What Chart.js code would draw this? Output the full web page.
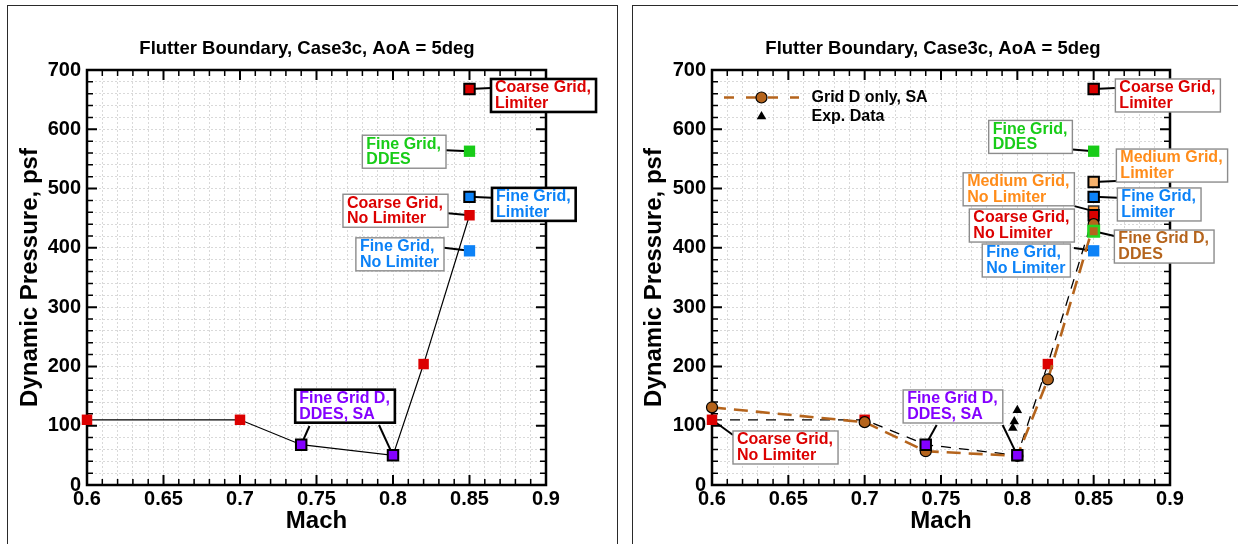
<!DOCTYPE html>
<html>
<head>
<meta charset="utf-8">
<title>Flutter Boundary, Case3c, AoA = 5deg</title>
<script src="https://cdn.jsdelivr.net/npm/chart.js@4.4.1/dist/chart.umd.min.js"></script>
<style>
  html, body { margin: 0; padding: 0; background: #fff; }
  body { width: 1238px; height: 544px; position: relative; overflow: hidden; }
  .frame { position: absolute; border: 1.5px solid #2a2a2a; box-sizing: border-box; }
  canvas { position: absolute; top: 0; }
</style>
</head>
<body>
<div class="frame" style="left:7px;top:5px;width:611px;height:600px"></div>
<div class="frame" style="left:632px;top:5px;width:700px;height:600px"></div>
<canvas id="panelA" width="600" height="544" style="left:7px;width:600px;height:544px"></canvas>
<canvas id="panelB" width="605" height="544" style="left:633px;width:605px;height:544px"></canvas>
<script>
// ---------- text ----------
const titleText = 'Flutter Boundary, Case3c, AoA = 5deg';
const xAxisTitle = 'Mach';
const yAxisTitle = 'Dynamic Pressure, psf';
const xTickLabels = ['0.6', '0.65', '0.7', '0.75', '0.8', '0.85', '0.9'];
const yTickLabels = ['0', '100', '200', '300', '400', '500', '600', '700'];

// ---------- data (Mach, dynamic pressure in psf) ----------
const machCoarseNoLim = [0.6, 0.7, 0.82, 0.85];
const qCoarseNoLim = [110, 110, 204, 455];
const machFineGridD = [0.74, 0.8];
const qFineGridD = [68, 50];
const machSingle = [0.85];
const qCoarseLim = [668];
const qFineDDES = [563];
const qFineLim = [486];
const qFineNoLim = [395];
const qMediumLim = [511];
const qMediumNoLim = [462];
const qFineGridDDDES = [428];
const machGridDSA = [0.6, 0.7, 0.74, 0.8, 0.82, 0.85];
const qGridDSA = [131, 106, 57, 49, 178, 440];
const machExp = [0.8, 0.798, 0.797];
const qExp = [126, 107, 96];

// ---------- label texts ----------
const noteCoarseLim = ['Coarse Grid,', 'Limiter'];
const noteCoarseNoLim = ['Coarse Grid,', 'No Limiter'];
const noteFineDDES = ['Fine Grid,', 'DDES'];
const noteFineLim = ['Fine Grid,', 'Limiter'];
const noteFineNoLim = ['Fine Grid,', 'No Limiter'];
const noteFineGridD = ['Fine Grid D,', 'DDES, SA'];
const noteMediumLim = ['Medium Grid,', 'Limiter'];
const noteMediumNoLim = ['Medium Grid,', 'No Limiter'];
const noteFineGridDDDES = ['Fine Grid D,', 'DDES'];
const legendGridDSA = 'Grid D only, SA';
const legendExp = 'Exp. Data';

// ---------- styling ----------
const FONT = "'Liberation Sans', Arial, Helvetica, sans-serif";
const RED = '#dc0000';
const GREEN = '#18cc18';
const BLUE = '#0c82f7';
const PURPLE = '#8400ff';
const ORANGE = '#ff8c1a';
const LIGHT_ORANGE = '#f7b26c';
const BROWN = '#b5641c';
Chart.defaults.font.family = FONT;
Chart.defaults.color = '#000';

const pts = (xs, ys) => xs.map((x, i) => ({ x, y: ys[i] }));
const boundary = pts(machCoarseNoLim, qCoarseNoLim)
  .concat(pts(machFineGridD, qFineGridD))
  .sort((a, b) => a.x - b.x);

const labelFor = (labels) => (v) => {
  const hit = labels.find(t => Math.abs(parseFloat(t) - v) < 1e-7);
  return hit === undefined ? '' : hit;
};
const isMajor = (labels, v) => labels.some(t => Math.abs(parseFloat(t) - v) < 1e-7);

// ---------- per-panel decorations: frame ticks, callout boxes, legend ----------
const panelDeco = {};

function toPx(chart, pt) {
  return { x: chart.scales.x.getPixelForValue(pt[0]), y: chart.scales.y.getPixelForValue(pt[1]) };
}

const decoPlugin = {
  id: 'deco',
  beforeDatasetsDraw(chart) {
    const cfg = panelDeco[chart.canvas.id];
    if (!cfg) return;
    const { ctx, chartArea: a, scales: { x, y } } = chart;
    ctx.save();
    // leader lines under the markers
    ctx.strokeStyle = '#000';
    ctx.lineWidth = 2;
    ctx.lineCap = 'butt';
    for (const n of cfg.notes) {
      for (const ld of n.leaders) {
        const p = toPx(chart, n.at[ld[0]]);
        ctx.beginPath();
        ctx.moveTo(p.x + ld[1], p.y + ld[2]);
        ctx.lineTo(p.x, p.y);
        ctx.stroke();
      }
    }
    // plot frame
    ctx.lineWidth = 2.5;
    ctx.strokeRect(a.left, a.top, a.right - a.left, a.bottom - a.top);
    // inward tick marks on all four sides
    for (const t of x.ticks) {
      const major = isMajor(xTickLabels, t.value);
      const len = major ? 10 : 6;
      const px = x.getPixelForValue(t.value);
      ctx.lineWidth = major ? 2 : 1.5;
      ctx.beginPath();
      ctx.moveTo(px, a.bottom); ctx.lineTo(px, a.bottom - len);
      ctx.moveTo(px, a.top); ctx.lineTo(px, a.top + len);
      ctx.stroke();
    }
    for (const t of y.ticks) {
      const major = isMajor(yTickLabels, t.value);
      const len = major ? 10 : 6;
      const py = y.getPixelForValue(t.value);
      ctx.lineWidth = major ? 2 : 1.5;
      ctx.beginPath();
      ctx.moveTo(a.left, py); ctx.lineTo(a.left + len, py);
      ctx.moveTo(a.right, py); ctx.lineTo(a.right - len, py);
      ctx.stroke();
    }
    ctx.restore();
  },
  afterDatasetsDraw(chart) {
    const cfg = panelDeco[chart.canvas.id];
    if (!cfg) return;
    const { ctx, chartArea: a } = chart;
    ctx.save();
    ctx.font = `bold 16px ${FONT}`;
    ctx.textBaseline = 'middle';
    ctx.textAlign = 'left';
    // callout boxes
    for (const n of cfg.notes) {
      const p = toPx(chart, n.at[0]);
      const w = Math.max(...n.lines.map(t => ctx.measureText(t).width)) + 9;
      const h = 33;
      const bx = n.side === 'L' ? p.x + n.box[0] - w : p.x + n.box[0];
      const by = p.y + n.box[1];
      ctx.fillStyle = '#fff';
      ctx.fillRect(bx, by, w, h);
      ctx.lineWidth = n.heavy ? 2.6 : 1.4;
      ctx.strokeStyle = n.heavy ? '#000' : '#8c8c8c';
      ctx.strokeRect(bx, by, w, h);
      ctx.fillStyle = n.color;
      n.lines.forEach((t, i) => ctx.fillText(t, bx + 4, by + 9 + i * 15.5));
    }
    // legend
    if (cfg.legend) {
      const ds = chart.data.datasets;
      const lineDs = ds[cfg.legend[0]];
      const expDs = ds[cfg.legend[1]];
      const x0 = a.left + 12, x1 = a.left + 87, xm = a.left + 49.5;
      const y0 = a.top + 27.5, y1 = a.top + 46.5;
      ctx.strokeStyle = lineDs.borderColor;
      ctx.lineWidth = 2.5;
      ctx.setLineDash([10, 12]);
      ctx.beginPath(); ctx.moveTo(x0, y0); ctx.lineTo(x1, y0); ctx.stroke();
      ctx.setLineDash([]);
      ctx.beginPath(); ctx.arc(xm, y0, 5.5, 0, Math.PI * 2);
      ctx.fillStyle = lineDs.pointBackgroundColor; ctx.fill();
      ctx.lineWidth = 1.2; ctx.strokeStyle = '#000'; ctx.stroke();
      ctx.beginPath();
      ctx.moveTo(xm, y1 - 5.5);
      ctx.lineTo(xm + 4.8, y1 + 2.75);
      ctx.lineTo(xm - 4.8, y1 + 2.75);
      ctx.closePath();
      ctx.fillStyle = '#000'; ctx.fill();
      ctx.fillStyle = '#000';
      ctx.fillText(lineDs.label, a.left + 99.5, y0);
      ctx.fillText(expDs.label, a.left + 99.5, y1);
    }
    ctx.restore();
  }
};

// ---------- chart factory ----------
function makeChart(id, datasets, lay) {
  return new Chart(document.getElementById(id), {
    type: 'scatter',
    data: { datasets },
    options: {
      responsive: false,
      animation: false,
      events: [],
      layout: { padding: { left: 0, right: lay.padR, top: 0, bottom: 0 } },
      plugins: {
        legend: { display: false },
        tooltip: { enabled: false },
        title: {
          display: true,
          text: titleText,
          color: '#000',
          font: { family: FONT, size: 18.5, weight: 'bold', lineHeight: 1.2 },
          padding: { top: 38.2, bottom: 9.6 }
        }
      },
      scales: {
        x: {
          type: 'linear',
          position: 'bottom',
          min: 0.6,
          max: 0.9,
          afterFit: (s) => { s.height = 59; },
          ticks: {
            stepSize: 0.01,
            autoSkip: false,
            maxRotation: 0,
            minRotation: 0,
            padding: 2,
            color: '#000',
            font: { family: FONT, size: 20, weight: 'bold', lineHeight: 1.2 },
            callback: labelFor(xTickLabels)
          },
          grid: { color: '#d9d9d9', lineWidth: 1, drawTicks: false },
          border: { display: false, dash: [2, 2] },
          title: {
            display: true,
            text: xAxisTitle,
            color: '#000',
            font: { family: FONT, size: 24, weight: 'bold', lineHeight: 1.2 },
            padding: { top: 0, bottom: 8.6 }
          }
        },
        y: {
          type: 'linear',
          position: 'left',
          min: 0,
          max: 700,
          afterFit: (s) => { s.width = lay.yWidth; },
          ticks: {
            stepSize: 20,
            autoSkip: false,
            padding: 6,
            color: '#000',
            font: { family: FONT, size: 20, weight: 'bold', lineHeight: 1.2 },
            callback: labelFor(yTickLabels)
          },
          grid: { color: '#d9d9d9', lineWidth: 1, drawTicks: false },
          border: { display: false, dash: [2, 2] },
          title: {
            display: true,
            text: yAxisTitle,
            color: '#000',
            font: { family: FONT, size: 24, weight: 'bold', lineHeight: 1.2 },
            padding: { top: lay.yTitlePad, bottom: 0 }
          }
        },
        // empty right-hand axis: reserves the margin between the plot and the callouts
        yMargin: {
          type: 'linear',
          position: 'right',
          min: 0,
          max: 700,
          afterFit: (s) => { s.width = lay.rightWidth; },
          ticks: { display: false },
          grid: { display: false },
          border: { display: false },
          title: { display: false }
        }
      }
    },
    plugins: [decoPlugin]
  });
}

function squares(label, xs, ys, fill, border, r, bw, order) {
  return {
    label, data: pts(xs, ys), showLine: false, clip: false, order,
    pointStyle: 'rect', pointRadius: r,
    pointBackgroundColor: fill, pointBorderColor: border, pointBorderWidth: bw
  };
}

// ---------- left panel ----------
panelDeco.panelA = {
  notes: [
    { lines: noteCoarseLim, color: RED, heavy: true, side: 'R', at: [[machSingle[0], qCoarseLim[0]]], box: [21.5, -10], leaders: [[0, 21.5, -1]] },
    { lines: noteFineDDES, color: GREEN, heavy: false, side: 'L', at: [[machSingle[0], qFineDDES[0]]], box: [-23.5, -16], leaders: [[0, -23.5, -1]] },
    { lines: noteCoarseNoLim, color: RED, heavy: false, side: 'L', at: [[machCoarseNoLim[3], qCoarseNoLim[3]]], box: [-21.5, -21], leaders: [[0, -21.5, -2]] },
    { lines: noteFineLim, color: BLUE, heavy: true, side: 'R', at: [[machSingle[0], qFineLim[0]]], box: [22.5, -9], leaders: [[0, 22.5, 1]] },
    { lines: noteFineNoLim, color: BLUE, heavy: false, side: 'L', at: [[machSingle[0], qFineNoLim[0]]], box: [-25.5, -13], leaders: [[0, -25.5, -3]] },
    { lines: noteFineGridD, color: PURPLE, heavy: true, side: 'R',
      at: [[machFineGridD[0], qFineGridD[0]], [machFineGridD[1], qFineGridD[1]]],
      box: [-6, -55], leaders: [[0, 8.3, -18.7], [1, -14, -30.4]] }
  ]
};

makeChart('panelA', [
  { label: 'Flutter boundary', data: boundary, showLine: true, clip: false, order: 20,
    borderColor: '#000', borderWidth: 1.2, pointRadius: 0 },
  squares('Coarse Grid, No Limiter', machCoarseNoLim, qCoarseNoLim, RED, RED, 7.4, 0, 12),
  squares('Fine Grid D, DDES, SA', machFineGridD, qFineGridD, PURPLE, '#000', 7.4, 2, 5),
  squares('Coarse Grid, Limiter', machSingle, qCoarseLim, RED, '#000', 7.4, 2, 5),
  squares('Fine Grid, DDES', machSingle, qFineDDES, GREEN, GREEN, 8, 0, 5),
  squares('Fine Grid, Limiter', machSingle, qFineLim, BLUE, '#000', 7.4, 2, 5),
  squares('Fine Grid, No Limiter', machSingle, qFineNoLim, BLUE, BLUE, 8, 0, 5)
], { padR: 0, yWidth: 80, rightWidth: 61, yTitlePad: 8.6 });

// ---------- right panel ----------
panelDeco.panelB = {
  legend: [1, 11],
  notes: [
    { lines: noteCoarseLim, color: RED, side: 'R', at: [[machSingle[0], qCoarseLim[0]]], box: [21.7, -10], leaders: [[0, 21.7, -1]] },
    { lines: noteFineDDES, color: GREEN, side: 'L', at: [[machSingle[0], qFineDDES[0]]], box: [-21.3, -30.8], leaders: [[0, -21.3, -1.8]] },
    { lines: noteMediumLim, color: ORANGE, side: 'R', at: [[machSingle[0], qMediumLim[0]]], box: [22.7, -33], leaders: [[0, 22.7, -1]] },
    { lines: noteMediumNoLim, color: ORANGE, side: 'L', at: [[machSingle[0], qMediumNoLim[0]]], box: [-19.3, -38.3], leaders: [[0, -19.3, -5]] },
    { lines: noteFineLim, color: BLUE, side: 'R', at: [[machSingle[0], qFineLim[0]]], box: [23.7, -8.9], leaders: [[0, 23.7, 1]] },
    { lines: noteCoarseNoLim, color: RED, side: 'L', at: [[machCoarseNoLim[3], qCoarseNoLim[3]]], box: [-19.3, -6.2], leaders: [] },
    { lines: noteFineGridDDDES, color: BROWN, side: 'R', at: [[machSingle[0], qFineGridDDDES[0]]], box: [20.7, -1.2], leaders: [[0, 20.7, 4.8]] },
    { lines: noteFineNoLim, color: BLUE, side: 'L', at: [[machSingle[0], qFineNoLim[0]]], box: [-23.3, -6.8], leaders: [[0, -19.8, -2.8]] },
    { lines: noteCoarseNoLim, color: RED, side: 'R', at: [[machCoarseNoLim[0], qCoarseNoLim[0]]], box: [21, 11.2], leaders: [[0, 21, 15.2]] },
    { lines: noteFineGridD, color: PURPLE, side: 'R',
      at: [[machFineGridD[0], qFineGridD[0]], [machFineGridD[1], qFineGridD[1]]],
      box: [-22.6, -54.7], leaders: [[0, 10.9, -19.7], [1, -14.7, -30.4]] }
  ]
};

const coarseRight = squares('Coarse Grid, No Limiter', machCoarseNoLim, qCoarseNoLim, RED,
  [RED, RED, RED, '#000'], 7.4, [0, 0, 0, 1.8], 12);

makeChart('panelB', [
  { label: 'Flutter boundary', data: boundary, showLine: true, clip: false, order: 20,
    borderColor: '#000', borderWidth: 1.3, borderDash: [10, 8], pointRadius: 0 },
  { label: legendGridDSA, data: pts(machGridDSA, qGridDSA), showLine: true, clip: false, order: 11,
    borderColor: BROWN, borderWidth: 2.6, borderDash: [14, 8],
    pointStyle: 'circle', pointRadius: 5.5, pointBackgroundColor: BROWN,
    pointBorderColor: '#000', pointBorderWidth: 1.2 },
  coarseRight,
  squares('Medium Grid, No Limiter', machSingle, qMediumNoLim, '#ff9a38', '#333', 7.2, 1.5, 13),
  squares('Fine Grid D, DDES, SA', machFineGridD, qFineGridD, PURPLE, '#000', 7.4, 2, 5),
  squares('Coarse Grid, Limiter', machSingle, qCoarseLim, RED, '#000', 7.4, 2, 5),
  squares('Fine Grid, DDES', machSingle, qFineDDES, GREEN, GREEN, 8, 0, 5),
  squares('Medium Grid, Limiter', machSingle, qMediumLim, LIGHT_ORANGE, '#000', 7.4, 2, 5),
  squares('Fine Grid, Limiter', machSingle, qFineLim, BLUE, '#000', 7.4, 2, 5),
  squares('Fine Grid D, DDES', machSingle, qFineGridDDDES, BROWN, '#22d622', 7.4, 2.5, 4),
  squares('Fine Grid, No Limiter', machSingle, qFineNoLim, BLUE, BLUE, 8, 0, 5),
  { label: legendExp, data: pts(machExp, qExp), showLine: false, clip: false, order: 1,
    pointStyle: 'triangle', pointRadius: 5.5, pointBackgroundColor: '#000',
    pointBorderColor: '#000', pointBorderWidth: 0 }
], { padR: 5, yWidth: 79, rightWidth: 63, yTitlePad: 6.6 });
</script>
</body>
</html>
